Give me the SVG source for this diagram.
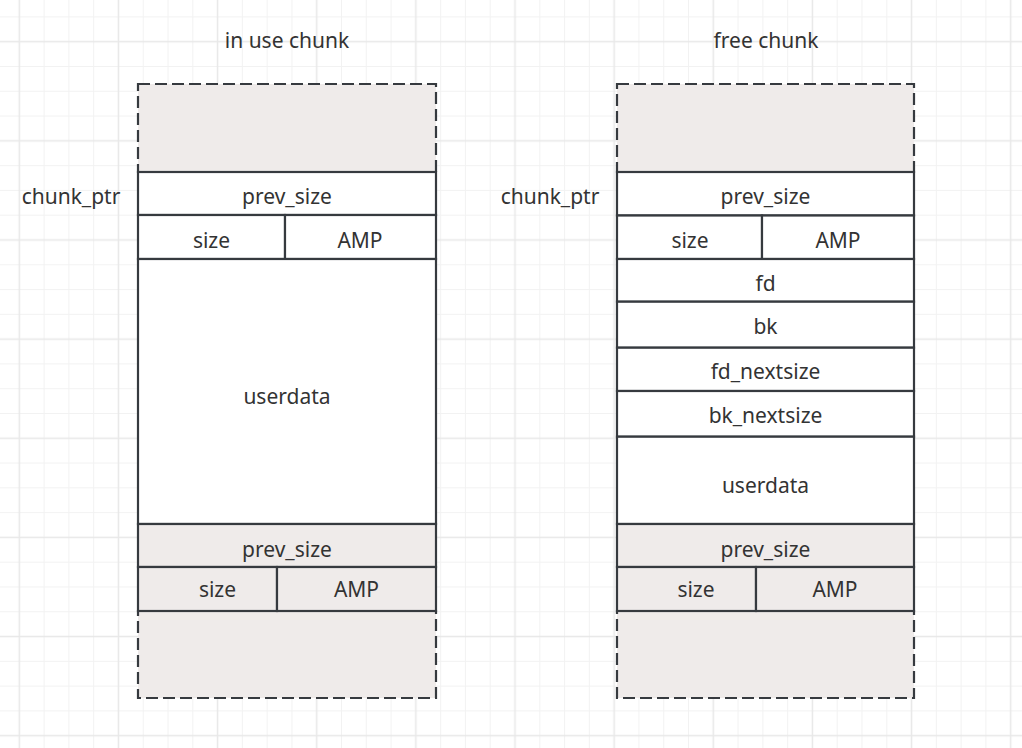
<svg xmlns="http://www.w3.org/2000/svg" width="1022" height="748" viewBox="0 0 1022 748">
  <defs>
    <pattern id="grid" patternUnits="userSpaceOnUse" x="6.91" y="29.31" width="99.14" height="99.14">
      <g stroke="#f2f2f2" stroke-width="1" fill="none">
        <line x1="37.18" y1="0" x2="37.18" y2="99.14"/>
        <line x1="61.96" y1="0" x2="61.96" y2="99.14"/>
        <line x1="86.75" y1="0" x2="86.75" y2="99.14"/>
        <line x1="0" y1="37.18" x2="99.14" y2="37.18"/>
        <line x1="0" y1="61.96" x2="99.14" y2="61.96"/>
        <line x1="0" y1="86.75" x2="99.14" y2="86.75"/>
      </g>
      <g stroke="#e8e8e8" stroke-width="1.5" fill="none">
        <line x1="12.39" y1="0" x2="12.39" y2="99.14"/>
        <line x1="0" y1="12.39" x2="99.14" y2="12.39"/>
      </g>
    </pattern>
  </defs>
  <style>
    .cell { stroke: #363a3f; stroke-width: 2.2; fill: #ffffff; }
    .gray { fill: #efebea; }
    .dash { stroke: #363a3f; stroke-width: 2.2; fill: #efebea; stroke-dasharray: 12 5; }
    text { font-family: "Noto Sans", "Open Sans", sans-serif; font-size: 21px; fill: #333333; text-anchor: middle; }
  </style>
  <rect x="0" y="0" width="1022" height="748" fill="#ffffff"/>
  <rect x="0" y="0" width="1022" height="748" fill="url(#grid)"/>

  <g id="labels">
    <text x="287" y="48">in use chunk</text>
    <text x="766" y="48">free chunk</text>
    <text x="71" y="204">chunk_ptr</text>
    <text x="550" y="204">chunk_ptr</text>
  </g>

  <!-- in use chunk -->
  <g id="inuse-top"><rect class="dash" x="138" y="84" width="298" height="88"/></g>
  <g id="inuse-bottom"><rect class="dash" x="138" y="611" width="298" height="87"/></g>
  <g id="inuse-prev_size"><rect class="cell" x="138" y="172" width="298" height="43"/><text x="287" y="204">prev_size</text></g>
  <g id="inuse-size"><rect class="cell" x="138" y="215" width="147" height="44"/><text x="211.5" y="248">size</text></g>
  <g id="inuse-amp"><rect class="cell" x="285" y="215" width="151" height="44"/><text x="360" y="248">AMP</text></g>
  <g id="inuse-userdata"><rect class="cell" x="138" y="259" width="298" height="265"/><text x="287" y="404">userdata</text></g>
  <g id="inuse-next-prev_size"><rect class="cell gray" x="138" y="524" width="298" height="43"/><text x="287" y="557">prev_size</text></g>
  <g id="inuse-next-size"><rect class="cell gray" x="138" y="567" width="139" height="44"/><text x="217.5" y="597">size</text></g>
  <g id="inuse-next-amp"><rect class="cell gray" x="277" y="567" width="159" height="44"/><text x="356.5" y="597">AMP</text></g>

  <!-- free chunk -->
  <g id="free-top"><rect class="dash" x="617" y="84" width="297" height="88"/></g>
  <g id="free-bottom"><rect class="dash" x="617" y="611" width="297" height="87"/></g>
  <g id="free-prev_size"><rect class="cell" x="617" y="172" width="297" height="43.5"/><text x="765.5" y="204">prev_size</text></g>
  <g id="free-size"><rect class="cell" x="617" y="215.5" width="145" height="43.5"/><text x="690" y="248">size</text></g>
  <g id="free-amp"><rect class="cell" x="762" y="215.5" width="152" height="43.5"/><text x="838" y="248">AMP</text></g>
  <g id="free-fd"><rect class="cell" x="617" y="259" width="297" height="42.7"/><text x="765.5" y="291">fd</text></g>
  <g id="free-bk"><rect class="cell" x="617" y="301.7" width="297" height="46"/><text x="765.5" y="334">bk</text></g>
  <g id="free-fd_nextsize"><rect class="cell" x="617" y="347.7" width="297" height="43.3"/><text x="765.5" y="379">fd_nextsize</text></g>
  <g id="free-bk_nextsize"><rect class="cell" x="617" y="391" width="297" height="45.7"/><text x="765.5" y="423">bk_nextsize</text></g>
  <g id="free-userdata"><rect class="cell" x="617" y="436.7" width="297" height="87.3"/><text x="765.5" y="493">userdata</text></g>
  <g id="free-next-prev_size"><rect class="cell gray" x="617" y="524" width="297" height="43"/><text x="765.5" y="557">prev_size</text></g>
  <g id="free-next-size"><rect class="cell gray" x="617" y="567" width="139" height="44"/><text x="696" y="597">size</text></g>
  <g id="free-next-amp"><rect class="cell gray" x="756" y="567" width="158" height="44"/><text x="835" y="597">AMP</text></g>

  <g id="connectors"></g>
</svg>
